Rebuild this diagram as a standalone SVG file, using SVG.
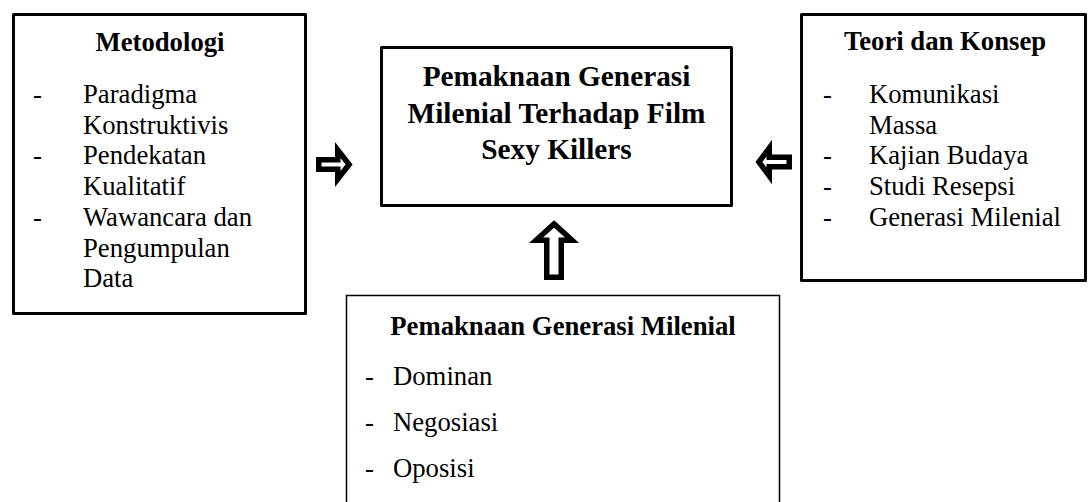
<svg xmlns="http://www.w3.org/2000/svg" width="1090" height="502" viewBox="0 0 1090 502">
<style>
.box{fill:#fff;stroke:#000;stroke-width:3;stroke-linejoin:round}
.thin{fill:#fff;stroke:#000;stroke-width:1.5}
text{font-family:'Liberation Serif','Times New Roman',serif;font-size:26.7px;fill:#000}
.b{font-weight:bold}
.c{font-size:29.3px}
.arr{fill:#fff;stroke:#000;stroke-width:5.5;stroke-linejoin:miter;stroke-miterlimit:10}
</style>
<rect width="1090" height="502" fill="#fff"/>
<g id="metodologi">
<rect class="box" x="13.5" y="14.5" width="292" height="299"/>
<text class="b" x="160" y="51" text-anchor="middle">Metodologi</text>
<text x="33" y="103">-</text><text x="83" y="103">Paradigma</text>
<text x="83" y="133.7">Konstruktivis</text>
<text x="33" y="164.4">-</text><text x="83" y="164.4">Pendekatan</text>
<text x="83" y="195.1">Kualitatif</text>
<text x="33" y="225.8">-</text><text x="83" y="225.8">Wawancara dan</text>
<text x="83" y="256.5">Pengumpulan</text>
<text x="83" y="287">Data</text>
</g>
<g id="pemaknaan-film">
<rect class="box" x="381.5" y="47.5" width="350" height="158"/>
<text class="b c" x="556.5" y="86" text-anchor="middle">Pemaknaan Generasi</text>
<text class="b c" x="556.5" y="122.5" text-anchor="middle">Milenial Terhadap Film</text>
<text class="b c" x="556.5" y="159" text-anchor="middle">Sexy Killers</text>
</g>
<g id="teori-konsep">
<rect class="box" x="801.5" y="14.5" width="284" height="266"/>
<text class="b" x="945" y="50" text-anchor="middle">Teori dan Konsep</text>
<text x="823" y="103">-</text><text x="869" y="103">Komunikasi</text>
<text x="869" y="133.7">Massa</text>
<text x="823" y="164.4">-</text><text x="869" y="164.4">Kajian Budaya</text>
<text x="823" y="195.1">-</text><text x="869" y="195.1">Studi Resepsi</text>
<text x="823" y="225.8">-</text><text x="869" y="225.8">Generasi Milenial</text>
</g>
<g id="pemaknaan-milenial">
<rect class="thin" x="346.5" y="295.5" width="433" height="230"/>
<text class="b" x="563" y="335" text-anchor="middle">Pemaknaan Generasi Milenial</text>
<text x="365" y="385">-</text><text x="393" y="385">Dominan</text>
<text x="365" y="431">-</text><text x="393" y="431">Negosiasi</text>
<text x="365" y="477">-</text><text x="393" y="477">Oposisi</text>
</g>
<g id="connectors">
<polygon class="arr" points="318.75,159.75 337.75,159.75 337.75,150 349.1,164.5 337.75,179 337.75,169.25 318.75,169.25"/>
<polygon class="arr" points="758.9,162 769.25,148 769.25,157.25 789.25,157.25 789.25,166.75 769.25,166.75 769.25,176"/>
<polygon class="arr" points="554,223.9 572,240.25 561.25,240.25 561.25,277.25 546.75,277.25 546.75,240.25 536,240.25"/>
</g>
</svg>
